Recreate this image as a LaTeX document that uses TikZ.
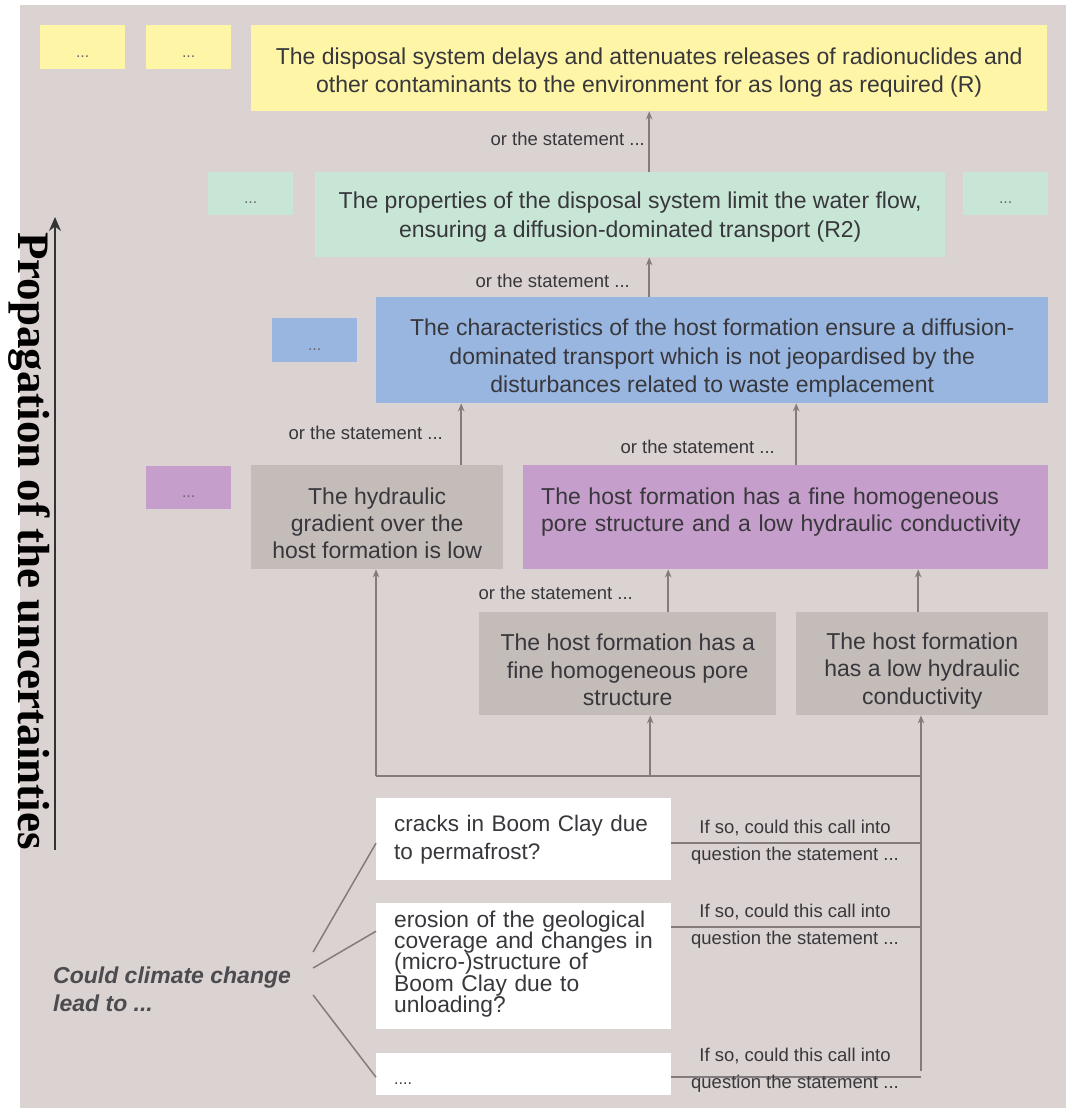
\documentclass[tikz,border=0pt]{standalone}
\usepackage{fontspec}
\setmainfont{Liberation Sans}
\newfontfamily\propfont{Liberation Serif}
\usetikzlibrary{arrows.meta,calc}

\definecolor{panel}{RGB}{218,211,209}
\definecolor{yel}{RGB}{255,245,166}
\definecolor{grn}{RGB}{200,230,213}
\definecolor{blu}{RGB}{152,182,224}
\definecolor{pur}{RGB}{198,158,203}
\definecolor{gbox}{RGB}{196,188,185}
\definecolor{ink}{RGB}{55,55,60}
\definecolor{wire}{RGB}{132,124,124}

\newcommand\mainsz{\fontsize{23}{28.5}\selectfont}
\newcommand\notesz{\fontsize{18.5}{18.5}\selectfont}
\newcommand\dotsz{\fontsize{16}{16}\selectfont}
% tightly set block: lines closer than the glyph height
\newcommand\tightsz{\fontsize{22.8}{21.3}\selectfont\lineskiplimit=-50pt\relax}
% invisible struts that push a text block down (top) or up (bottom) inside its box
\newcommand\topstrut[1]{\rule{0pt}{#1pt}}
\newcommand\botstrut[1]{\rule[-#1pt]{0pt}{1pt}}
% an ellipsis placed slightly below the box centre
\newcommand\lowdots[1]{\raisebox{-10pt}[0pt][0pt]{#1}}

\begin{document}
\begin{tikzpicture}[x=1pt,y=-1pt,
  box/.style={rectangle, inner sep=0pt, anchor=north west, text=ink, align=center, font=\mainsz},
  small/.style={box, minimum width=85pt, minimum height=44pt, font=\dotsz, text=ink!75},
  wbox/.style={box, fill=white, align=left, inner xsep=18pt, text width=259pt, minimum width=295pt},
  note/.style={inner sep=0pt, text=ink, font=\notesz},
  arr/.style={draw=wire, line width=1.8pt, -{Stealth[length=8pt,width=6.5pt]}},
  wire/.style={draw=wire, line width=1.8pt}]

% canvas and grey panel
\useasboundingbox (0,0) rectangle (1071,1115);
\fill[white] (0,0) rectangle (1071,1115);
\fill[panel] (20,5) rectangle (1066,1108);

% top level: R
\node[small, fill=yel] (y1) at (40,25) {\lowdots{...}};
\node[small, fill=yel] (y2) at (146,25) {\lowdots{...}};
\node[box, fill=yel, minimum width=796pt, minimum height=86pt] (R) at (251,25)
  {\topstrut{25}The disposal system delays and attenuates releases of radionuclides and\\
   other contaminants to the environment for as long as required (R)};

% R2
\node[small, fill=grn, minimum height=43pt] (g1) at (208,172) {\lowdots{...}};
\node[box, fill=grn, minimum width=630pt, minimum height=85pt] (G) at (315,172)
  {\topstrut{21}The properties of the disposal system limit the water flow,\\
   ensuring a diffusion-dominated transport (R2)};
\node[small, fill=grn, minimum height=43pt] (g2) at (963,172) {\lowdots{...}};

% host formation
\node[small, fill=blu] (b1) at (272,318) {\lowdots{...}};
\node[box, fill=blu, minimum width=672pt, minimum height=106pt] (B) at (376,297)
  {\topstrut{33}The characteristics of the host formation ensure a diffusion-\\
   dominated transport which is not jeopardised by the\\
   disturbances related to waste emplacement};

% hydraulic gradient and pore structure
\node[small, fill=pur, minimum height=43pt] (p1) at (146,466) {\lowdots{...}};
\node[box, fill=gbox, minimum width=252pt, minimum height=104pt, font=\fontsize{23}{27}\selectfont] (H) at (251,465)
  {\topstrut{29}The hydraulic\\gradient over the\\host formation is low};
\node[box, fill=pur, minimum width=525pt, minimum height=104pt, align=left,
      inner xsep=18pt, text width=489pt, font=\fontsize{23}{27}\selectfont] (P) at (523,465)
  {The host formation has a fine homogeneous\\
   pore structure and a low hydraulic conductivity\botstrut{15}};

\node[box, fill=gbox, minimum width=297pt, minimum height=103pt, font=\fontsize{23}{27.5}\selectfont] (F) at (479,612)
  {\topstrut{29}The host formation has a\\fine homogeneous pore\\structure};
\node[box, fill=gbox, minimum width=252pt, minimum height=103pt, font=\fontsize{23}{27.5}\selectfont] (C) at (796,612)
  {\topstrut{31}The host formation\\has a low hydraulic\\conductivity};

% climate change questions
\node[wbox, minimum height=82pt, font=\fontsize{22.5}{28}\selectfont] (W1) at (376,798)
  {cracks in Boom Clay due\\to permafrost?};
\node[wbox, minimum height=126pt, font=\tightsz] (W2) at (376,903)
  {erosion of the geological\\coverage and changes in\\
   (micro-)structure of\\Boom Clay due to\\unloading?\botstrut{9}};
\node[wbox, minimum height=42pt, font=\dotsz] (W3) at (376,1053) {\raisebox{-10pt}[0pt][0pt]{....}};

\node[anchor=west, inner sep=0pt, text=ink!90, align=left,
      font=\fontsize{23}{28}\selectfont\bfseries\itshape] (Q) at (53,989)
  {Could climate change\\lead to ...};

% "or the statement ..." labels
\node[note, anchor=east] (o1) at (645,139) {or the statement ...};
\node[note, anchor=east] (o2) at (630,281) {or the statement ...};
\node[note, anchor=east] (o3) at (443,433) {or the statement ...};
\node[note, anchor=east] (o4) at (775,447) {or the statement ...};
\node[note, anchor=east] (o5) at (633,593) {or the statement ...};

% upward links between statements
\draw[arr] (R.south |- G.north) -- (R.south);
\draw[arr] (R.south |- B.north) -- (R.south |- G.south);
\draw[arr] ([xshift=84pt]H.north) -- ([xshift=84pt]H.north |- B.south);
\draw[arr] ([xshift=10.5pt]P.north) -- ([xshift=10.5pt]P.north |- B.south);
\draw[arr] ([xshift=40.5pt]F.north) -- ([xshift=40.5pt]F.north |- P.south);
\draw[arr] ([xshift=-4pt]C.north) -- ([xshift=-4pt]C.north |- P.south);

% collector line feeding the lower statements
\coordinate (jl) at (376,776);
\coordinate (jr) at (921,776);
\draw[wire] (jl) -- (jr);
\draw[arr] (jl) -- (jl |- H.south);
\draw[arr] ([xshift=22.5pt]F.south |- jl) -- ([xshift=22.5pt]F.south);

% question links to the collector
\coordinate (qb) at (921,1071);
\draw[arr] (qb) -- (qb |- C.south);
\draw[wire] ([yshift=-4pt]W1.east) -- ([yshift=-4pt]W1.east -| qb);
\draw[wire] ([yshift=39pt]W2.east) -- ([yshift=39pt]W2.east -| qb);
\draw[wire] ([yshift=-3pt]W3.east) -- ([yshift=-3pt]W3.east -| qb);

\foreach \n/\y in {1/843,2/927,3/1071}{
  \node[note, anchor=south] (s\n) at (795,\y-7) {If so, could this call into};
  \node[note, anchor=north] (t\n) at (795,\y+4) {question the statement ...};
}

% fan from the climate question
\draw[wire, line width=1.5pt] ([xshift=22pt,yshift=37pt]Q.east) -- ([yshift=-4pt]W1.west);
\draw[wire, line width=1.5pt] ([xshift=22pt,yshift=21pt]Q.east) -- ([yshift=35pt]W2.west);
\draw[wire, line width=1.5pt] ([xshift=22pt,yshift=-6pt]Q.east) -- ([yshift=-3pt]W3.west);

% propagation axis
\coordinate (pa) at (55,850);
\coordinate (pb) at (55,217);
\draw[draw=black!80, line width=1.6pt, -{Stealth[length=14pt,width=12pt]}] (pa) -- (pb);
\node[rotate=-90, inner sep=0pt, font=\propfont\bfseries\fontsize{45}{45}\selectfont] (prop) at (29,541)
  {Propagation of the uncertainties};

\end{tikzpicture}
\end{document}
